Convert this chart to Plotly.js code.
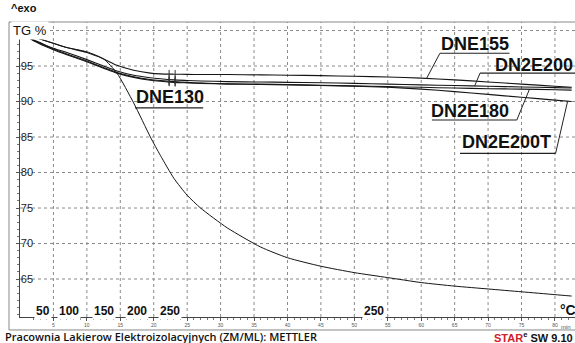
<!DOCTYPE html>
<html>
<head>
<meta charset="utf-8">
<script src="https://cdn.plot.ly/plotly-3.0.1.min.js"></script>
<style>html,body{margin:0;padding:0;background:#fff;}#chart{width:575px;height:343px;}</style>
</head>
<body>
<div id="chart"></div>
<script>
// time axis (min)
const time = [0,1,2,3,5,7,10,12.5,14.5,17,19.5,21,23,25,27,31,36,40,45,50,55,60,65,70,75,80,82.5];
// TG % series
const DNE130  = [99.6,99.4,99.1,98.8,98.2,97.6,97.0,96.0,94.0,89.8,85.0,82.4,79.2,76.8,75.0,72.2,69.5,68.0,66.8,65.9,65.2,64.5,64.0,63.6,63.2,62.8,62.6];
const DNE155  = [99.6,99.4,99.1,98.8,98.2,97.6,96.9,96.0,95.1,94.4,94.0,93.9,93.85,93.82,93.8,93.8,93.75,93.7,93.65,93.55,93.45,93.3,93.05,92.75,92.45,92.15,92.0];
const DN2E200 = [99.6,99.2,98.7,98.3,97.5,96.9,95.9,95.0,94.3,93.7,93.35,93.2,93.05,92.97,92.9,92.8,92.75,92.7,92.65,92.55,92.45,92.35,92.25,92.15,92.05,91.95,91.9];
const DN2E180 = [99.6,99.2,98.6,98.2,97.4,96.7,95.7,94.8,94.1,93.5,93.1,92.95,92.8,92.7,92.6,92.5,92.45,92.4,92.3,92.2,92.1,92.0,91.9,91.8,91.75,91.65,91.6];
const DN2E200T= [99.6,99.2,98.6,98.1,97.3,96.6,95.6,94.7,94.0,93.4,93.0,92.85,92.7,92.62,92.55,92.45,92.4,92.35,92.25,92.15,92.0,91.75,91.4,91.0,90.6,90.2,90.0];
const seriesNames = ['DNE130','DNE155','DN2E200','DN2E180','DN2E200T'];
const seriesVals = [DNE130, DNE155, DN2E200, DN2E180, DN2E200T];
// evaluation marks (min)
const markTimes = [22.3, 23.2];
// temperature labels along the time axis
const tempLabels = ['50','100','150','200','250','250'];
const tempTimes  = [3.4, 7.3, 12.5, 17.5, 22.5, 53.0];
// axis ticks
const xTicks = [0,5,10,15,20,25,30,35,40,45,50,55,60,65,70,75,80];
const yTicks = [65,70,75,80,85,90,95];
const yGrid = [65,70,75,80,85,90,95,100];

function interp(xs, ys, x){
  for(let i=0;i<xs.length-1;i++){
    if(x>=xs[i] && x<=xs[i+1]){
      const f=(x-xs[i])/(xs[i+1]-xs[i]); return ys[i]+f*(ys[i+1]-ys[i]);
    }
  }
  return ys[ys.length-1];
}

const traces = seriesVals.map((v,i)=>({
  x: time, y: v, type:'scatter', mode:'lines', name: seriesNames[i],
  line:{color: '#151515', width: i===0 ? 1 : 1.1, shape:'spline', smoothing:0.6},
  hoverinfo:'skip'
}));
seriesVals.forEach((v,i)=>{
  if(i===0) return;
  traces.push({x: markTimes, y: markTimes.map(t=>interp(time,v,t)), type:'scatter', mode:'markers',
    marker:{symbol:'line-ns', size:6, line:{color:'#333', width:1}}, hoverinfo:'skip'});
});

const lblFont = {family:'Liberation Sans, Arial, sans-serif', size:18, color:'#111', weight:'bold'};
const labels = [
  {t:'DNE130',   x:22.4, y:90.6, u0:17.2, u1:27.4, uy:89.1, lx:17.2, ly:89.1, ls:'l'},
  {t:'DNE155',   x:68.0, y:98.1, u0:62.8, u1:73.2, uy:96.8, lx:60.8, ly:93.25, ls:'l'},
  {t:'DN2E200',  x:76.9, y:95.1, u0:68.8, u1:83.5, uy:94.0, lx:68.0, ly:92.2, ls:'l'},
  {t:'DN2E180',  x:67.3, y:88.7, u0:61.6, u1:74.3, uy:87.4, lx:76.2, ly:91.75, ls:'r'},
  {t:'DN2E200T', x:72.8, y:84.3, u0:65.8, u1:80.1, uy:82.7, lx:81.9, ly:90.05, ls:'r'}
];
const shapes = [];
const annotations = [];
// grid (dotted)
xTicks.forEach(g=>{ if(g>0) shapes.push({type:'line', xref:'x', yref:'paper', x0:g, x1:g, y0:0, y1:1, line:{color:'#8a8a8a', width:1, dash:'dot'}, layer:'below'}); });
yGrid.forEach(g=>shapes.push({type:'line', xref:'paper', yref:'y', x0:0, x1:1, y0:g, y1:g, line:{color:'#8a8a8a', width:1, dash:'dot'}, layer:'below'}));
labels.forEach(L=>{
  annotations.push({x:L.x, y:L.y, xref:'x', yref:'y', text:L.t, showarrow:false, font:lblFont, xanchor:'center', yanchor:'middle'});
  shapes.push({type:'line', xref:'x', yref:'y', x0:L.u0, x1:L.u1, y0:L.uy, y1:L.uy, line:{color:'#222', width:1.2}});
  const sx = L.ls==='l' ? L.u0 : L.u1;
  shapes.push({type:'line', xref:'x', yref:'y', x0:sx, x1:L.lx, y0:L.uy, y1:L.ly, line:{color:'#222', width:1}});
});
// outer frame
shapes.push({type:'rect', xref:'paper', yref:'paper', x0:-0.0198, x1:1.05, y0:-0.044, y1:1, line:{color:'#888', width:1}, layer:'below'});

tempLabels.forEach((s,i)=>annotations.push({x:tempTimes[i], y:60.5, xref:'x', yref:'y', text:s, showarrow:false,
  font:{family:'Liberation Sans, Arial, sans-serif', size:12, color:'#111', weight:'bold'}, xanchor:'center', yanchor:'middle', bgcolor:'#fff'}));
annotations.push({x:81.9, y:60.6, xref:'x', yref:'y', text:'°C', showarrow:false, font:{family:'Liberation Sans, Arial, sans-serif', size:14, color:'#111', weight:'bold'}, xanchor:'center', yanchor:'middle'});
annotations.push({x:81.7, y:-0.034, xref:'x', yref:'paper', text:'min', showarrow:false, font:{family:'Liberation Sans, Arial, sans-serif', size:6, color:'#555'}, xanchor:'center', yanchor:'middle'});
annotations.push({x:-0.0198, y:1.046, xref:'paper', yref:'paper', text:'^exo', showarrow:false, font:{family:'Liberation Sans, Arial, sans-serif', size:11, color:'#111', weight:'bold'}, xanchor:'left', yanchor:'middle'});
annotations.push({x:-0.017, y:0.97, xref:'paper', yref:'paper', text:'TG %', showarrow:false, font:{family:'Liberation Sans, Arial, sans-serif', size:13, color:'#111'}, xanchor:'left', yanchor:'middle', bgcolor:'#fff'});
annotations.push({x:-0.03, y:-0.067, xref:'paper', yref:'paper', text:'Pracownia Lakierow Elektroizolacyjnych (ZM/ML): METTLER', showarrow:false, font:{family:'Open Sans, sans-serif', size:11, color:'#111', weight:600}, xanchor:'left', yanchor:'middle'});
annotations.push({x:1.0, y:-0.067, xref:'paper', yref:'paper', text:'<span style="color:#d0202a">STAR</span><sup>e</sup> SW 9.10', showarrow:false, font:{family:'Liberation Sans, Arial, sans-serif', size:11, color:'#111', weight:'bold'}, xanchor:'right', yanchor:'middle'});

const layout = {
  width:575, height:343,
  margin:{l:20, r:0, t:22, b:26},
  paper_bgcolor:'#fff', plot_bgcolor:'#fff',
  showlegend:false,
  xaxis:{range:[0,83], tickvals:xTicks, ticktext:xTicks.map(String), showgrid:false,
    zeroline:false, showline:true, linecolor:'#444', linewidth:1, ticks:'outside', ticklen:3, tickcolor:'#555',
    tickfont:{family:'Liberation Sans, Arial, sans-serif', size:5, color:'#555'},
    minor:{dtick:1, ticks:'outside', ticklen:2, tickcolor:'#777', showgrid:false}},
  yaxis:{range:[59.65,101.2], tickvals:yTicks, ticktext:yTicks.map(String), showgrid:false, zeroline:false,
    showline:true, linecolor:'#444', linewidth:1, ticks:'outside', ticklen:3, tickcolor:'#555', ticklabelposition:'inside',
    tickfont:{family:'Liberation Sans, Arial, sans-serif', size:11, color:'#222'},
    minor:{dtick:1, ticks:'outside', ticklen:2, tickcolor:'#777', showgrid:false}},
  shapes: shapes,
  annotations: annotations
};
Plotly.newPlot('chart', traces, layout, {staticPlot:true, displayModeBar:false});
</script>
</body>
</html>
